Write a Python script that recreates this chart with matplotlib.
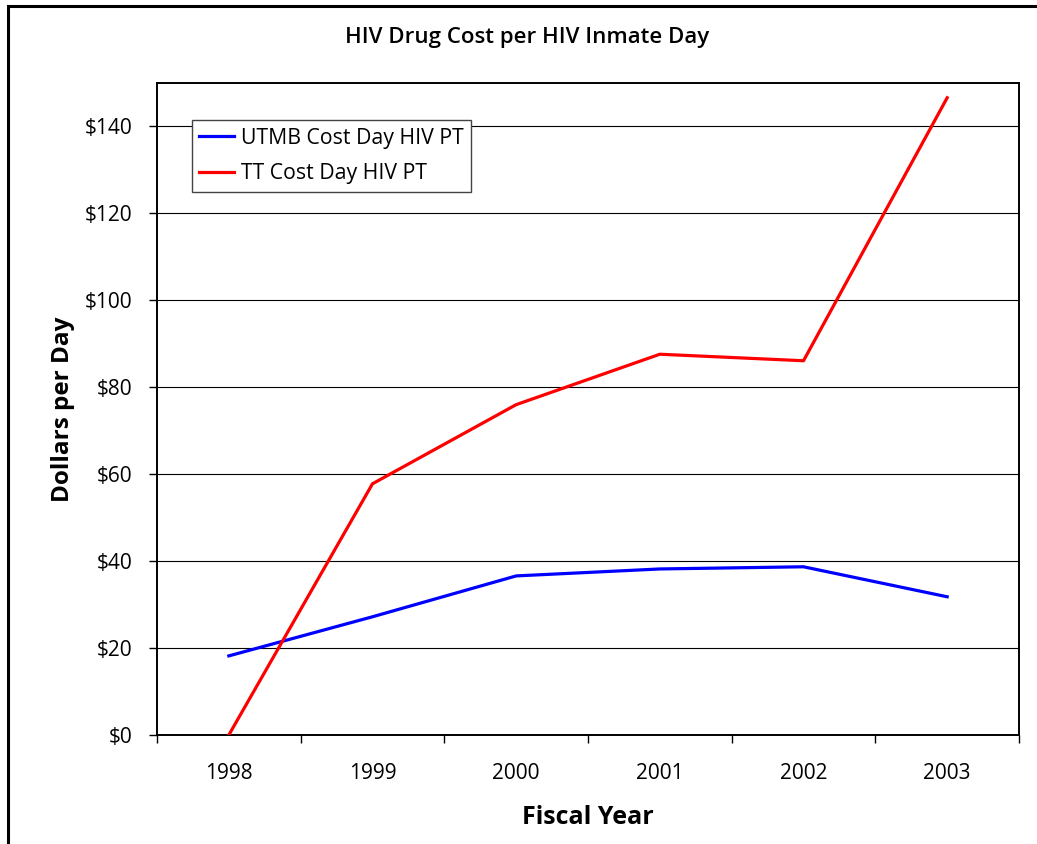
import numpy as np
import matplotlib
matplotlib.use("Agg")
import matplotlib.pyplot as plt
from matplotlib.patches import Rectangle
from matplotlib.ticker import FuncFormatter

years = ["1998", "1999", "2000", "2001", "2002", "2003"]
utmb_cost = [18.2, 27.2, 36.6, 38.2, 38.7, 31.8]
tt_cost = [0.0, 57.8, 76.0, 87.6, 86.1, 146.6]
y_ticks = [0, 20, 40, 60, 80, 100, 120, 140]

plt.rcParams["font.family"] = ["Open Sans", "DejaVu Sans"]

fig = plt.figure(figsize=(10.37, 8.44), dpi=100)
ax = fig.add_axes([157 / 1037, 1 - 735 / 844, (1019 - 157) / 1037, (735 - 83) / 844])

# outer chart border (runs past right and bottom edges)
fig.patches.append(Rectangle((8 / 1037, -0.05), 1.2, 1 - 6 / 844 + 0.05,
                             transform=fig.transFigure, fill=False,
                             edgecolor="black", linewidth=2.2, zorder=0))

x = np.arange(len(years))
ax.plot(x, utmb_cost, color="#0000ff", linewidth=2.3, label="UTMB Cost Day HIV PT", zorder=3)
ax.plot(x, tt_cost, color="#ff0000", linewidth=2.3, label="TT Cost Day HIV PT", zorder=3)

ax.set_xlim(-0.5, len(years) - 0.5)
ax.set_ylim(0, 150)
ax.set_yticks(y_ticks)
ax.yaxis.set_major_formatter(FuncFormatter(lambda v, p: f"${v:.0f}"))
ax.grid(axis="y", color="black", linewidth=0.8)
ax.set_axisbelow(True)

ax.set_xticks(x)
ax.set_xticklabels(years)
ax.set_xticks(np.arange(len(years) + 1) - 0.5, minor=True)
ax.tick_params(axis="x", which="major", length=0, pad=20, labelsize=15)
ax.tick_params(axis="x", which="minor", length=6, width=1, direction="out")
ax.tick_params(axis="y", length=6, width=1, direction="out", pad=12, labelsize=15)

for s in ax.spines.values():
    s.set_linewidth(1.4)
    s.set_color("black")

ax.set_xlabel("Fiscal Year", fontsize=18, fontweight="bold", labelpad=15.5)
ax.set_ylabel("Dollars per Day", fontsize=17.5, fontweight="bold", labelpad=7)
fig.text(0.508, 1 - 37 / 844, "HIV Drug Cost per HIV Inmate Day", ha="center", va="center",
         fontsize=16, fontweight="semibold")

leg = ax.legend(loc="upper left", bbox_to_anchor=(0.0406, 0.943), fontsize=15.3,
                frameon=True, fancybox=False, borderaxespad=0, handlelength=1.65,
                handletextpad=0.3, borderpad=0.35, labelspacing=0.7)
leg.get_frame().set_edgecolor("#444444")
leg.get_frame().set_linewidth(1.0)
leg.get_frame().set_alpha(1)

fig.savefig("out.png", dpi=100)
